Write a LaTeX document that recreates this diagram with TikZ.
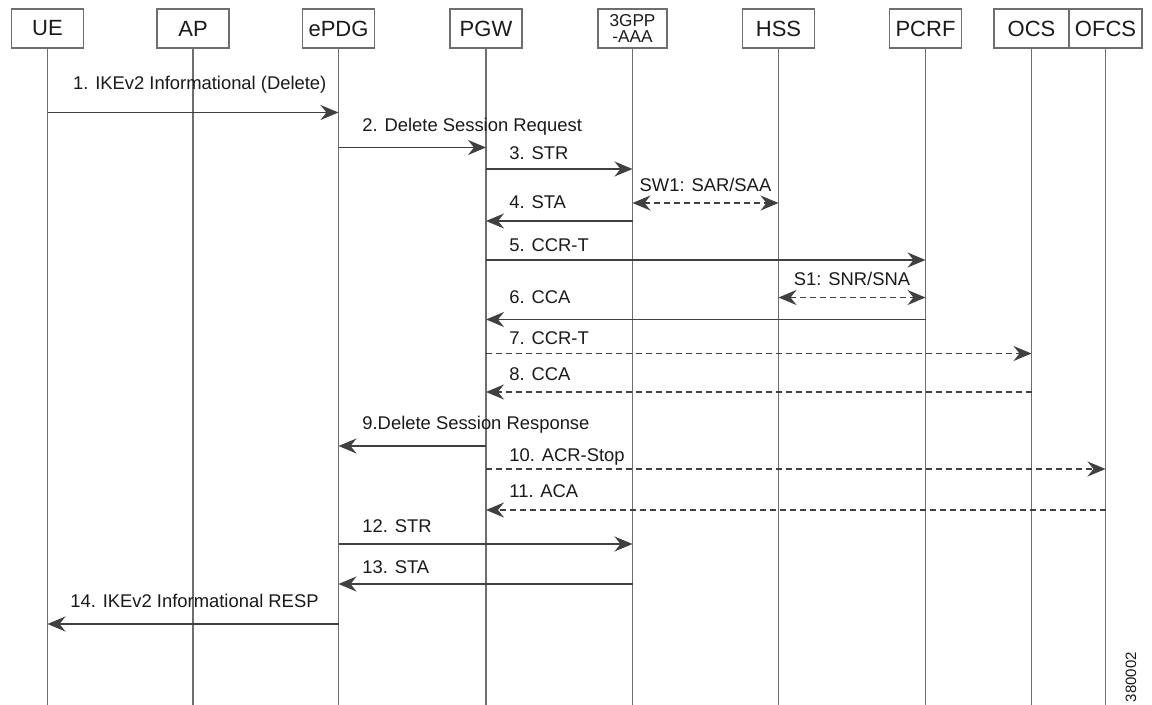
\documentclass[tikz,border=0pt]{standalone}
\usepackage{fontspec}
\setmainfont{Liberation Sans}
\usetikzlibrary{arrows.meta}
\definecolor{linec}{HTML}{404040}
\definecolor{lifec}{HTML}{6E6E6E}
\definecolor{txtc}{HTML}{1A1A1A}

\tikzset{
  entity/.style={draw=lifec, line width=0.6pt, minimum width=36pt, minimum height=19.5pt,
    inner sep=0pt, text=txtc, font=\fontsize{11}{12}\selectfont},
  lifeline/.style={draw=lifec, line width=0.7pt},
  tip/.style={Stealth[length=9pt,width=7.5pt,inset=3pt]},
  msg/.style={draw=linec, line width=0.9pt, -{Stealth[length=9pt,width=7.5pt,inset=3pt]}},
  optmsg/.style={msg, dash pattern=on 3pt off 2pt},
  bimsg/.style={optmsg, {Stealth[length=9pt,width=7.5pt,inset=3pt]}-{Stealth[length=9pt,width=7.5pt,inset=3pt]}},
  msglabel/.style={anchor=base west, inner sep=0pt, text=txtc, font=\fontsize{9.2}{10}\selectfont},
}

\begin{document}
\begin{tikzpicture}[x=0.5pt,y=-0.5pt]
  \useasboundingbox (0,0) rectangle (1152,705);
  \fill[white] (0,0) rectangle (1152,705);

  % ============================================================
  %                       PARAMETERS
  % ============================================================
  \def\boxY{28.5}     % centre of the entity boxes
  \def\bottomY{705}   % lifelines run to the page edge

  % ============================================================
  %                       ENTITIES
  % ============================================================
  \node[entity] (ue)   at (47.5,\boxY)  {UE};
  \node[entity] (ap)   at (193,\boxY)   {AP};
  \node[entity] (epdg) at (338.5,\boxY) {ePDG};
  \node[entity] (pgw)  at (486,\boxY)   {PGW};
  \node[entity, minimum width=34.5pt, align=center,
        font=\fontsize{8.6}{8.2}\selectfont] (aaa) at (632.5,\boxY) {3GPP\\-AAA};
  \node[entity] (hss)  at (778.5,\boxY) {HSS};
  \node[entity] (pcrf) at (925.5,\boxY) {PCRF};
  \node[entity, minimum width=37.5pt] (ocs)  at (1031.5,\boxY) {OCS};
  \node[entity, minimum width=36.5pt] (ofcs) at (1105.5,\boxY) {OFCS};

  % ============================================================
  %                       LIFELINES
  % ============================================================
  \coordinate (bottom) at (0,\bottomY);
  \foreach \e in {ue,ap,epdg,pgw,aaa,hss,pcrf,ocs,ofcs} {
    \draw[lifeline] (\e.south) -- (\e.south |- bottom);
  }

  % ============================================================
  %                       MESSAGES
  % ============================================================
  \foreach \src/\dst/\yy/\kind in {
      ue/epdg/112.5/msg, epdg/pgw/147.5/msg, pgw/aaa/169/msg, aaa/hss/203/bimsg,
      aaa/pgw/221/msg, pgw/pcrf/260/msg, hss/pcrf/297.5/bimsg, pcrf/pgw/319.5/msg,
      pgw/ocs/353.5/optmsg, ocs/pgw/392/optmsg, pgw/epdg/446/msg, pgw/ofcs/469/optmsg,
      ofcs/pgw/510/optmsg, epdg/aaa/544/msg, aaa/epdg/584/msg, epdg/ue/624/msg} {
    \coordinate (row) at (0,\yy);
    \draw[\kind] (\src |- row) -- (\dst |- row);
  }

  % ============================================================
  %                       LABELS
  % ============================================================
  \node[msglabel] (lbl1)  at (72.7,89.5)  {1. IKEv2 Informational (Delete)};
  \node[msglabel] (lbl2)  at (362,131.5)  {2. Delete Session Request};
  \node[msglabel] (lbl3)  at (509,159.5)  {3. STR};
  \node[msglabel, anchor=base] (lblsw1) at (705.5,191.5) {SW1: SAR/SAA};
  \node[msglabel] (lbl4)  at (509,208.5)  {4. STA};
  \node[msglabel] (lbl5)  at (509,251.5)  {5. CCR-T};
  \node[msglabel, anchor=base] (lbls1) at (852,285.5) {S1: SNR/SNA};
  \node[msglabel] (lbl6)  at (509,303.5)  {6. CCA};
  \node[msglabel] (lbl7)  at (509,344.5)  {7. CCR-T};
  \node[msglabel] (lbl8)  at (509,380.5)  {8. CCA};
  \node[msglabel] (lbl9)  at (362,429.5)  {9.Delete Session Response};
  \node[msglabel] (lbl10) at (509,461.5)  {10. ACR-Stop};
  \node[msglabel] (lbl11) at (509,497.5)  {11. ACA};
  \node[msglabel] (lbl12) at (362,532.5)  {12. STR};
  \node[msglabel] (lbl13) at (362,573.5)  {13. STA};
  \node[msglabel] (lbl14) at (70,607.5)   {14. IKEv2 Informational RESP};

  \node[rotate=90, inner sep=0pt, text=txtc, font=\fontsize{7.5}{8}\selectfont] (figid) at (1131,677) {380002};

\end{tikzpicture}
\end{document}
